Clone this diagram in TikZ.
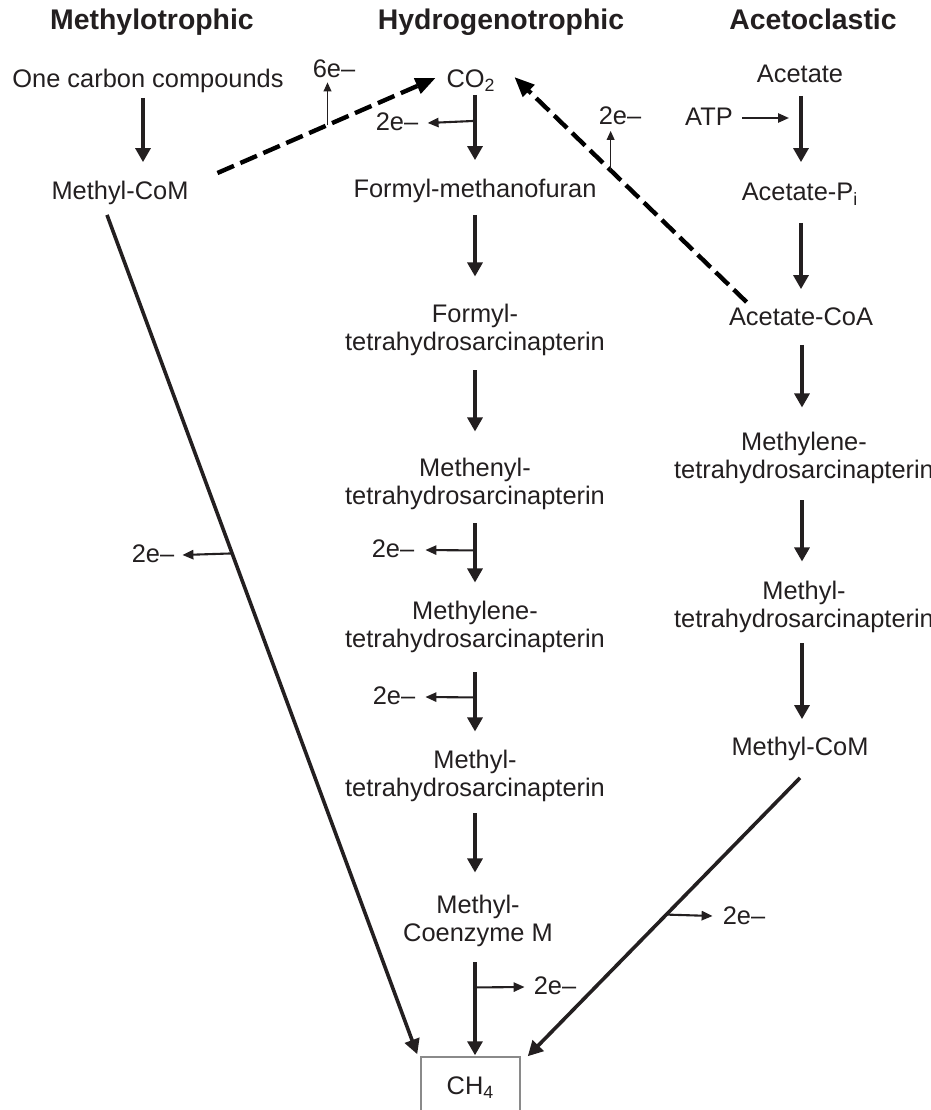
\documentclass[tikz,border=0pt]{standalone}
\usepackage{fontspec}
\setmainfont{Liberation Sans}
\usetikzlibrary{arrows.meta,calc}
\definecolor{ink}{HTML}{231F20}
\definecolor{boxgray}{HTML}{8A8A8A}
\begin{document}
\begin{tikzpicture}[x=0.5pt,y=-0.5pt,
  lbl/.style={inner sep=0pt, text height=0.73em, text depth=0.21em, font=\fontsize{12.7}{14}\selectfont, text=ink},
  two/.style={inner sep=0pt, align=center, font=\fontsize{12.7}{14}\selectfont, text=ink},
  hdr/.style={inner sep=0pt, text height=0.73em, text depth=0.21em, font=\fontsize{14.2}{16}\selectfont\bfseries, text=ink},
  mainarr/.style={line width=1.6pt, draw=ink, -{Triangle[width=7.5pt,length=7pt]}},
  diagline/.style={line width=1.8pt, draw=ink, -{Triangle[width=7.5pt,length=7.5pt]}},
  thinarr/.style={line width=1.05pt, draw=ink, -{Triangle[width=4.6pt,length=5.5pt]}},
  upthin/.style={line width=0.8pt, draw=ink, -{Triangle[width=3.8pt,length=4.5pt]}},
  dasharr/.style={line width=2.2pt, draw=black, dash pattern=on 9pt off 3.5pt, -{Triangle[width=8pt,length=10pt]}},
  ch4box/.style={draw=boxgray, line width=0.75pt, minimum width=49.5pt, minimum height=30.5pt, inner sep=0pt, font=\fontsize{12.7}{14}\selectfont, text=ink}
]
\clip (0,0) rectangle (931,1110);
\useasboundingbox (0,0) rectangle (931,1110);

% headers
\node[hdr] (h1) at (152,24.5) {Methylotrophic};
\node[hdr] (h2) at (501,24.5) {Hydrogenotrophic};
\node[hdr] (h3) at (813,24.5) {Acetoclastic};

% methylotrophic
\node[lbl] (occ) at (148,82.5) {One carbon compounds};
\node[lbl] (mc1) at (120,194.5) {Methyl-CoM};

% hydrogenotrophic
\node[lbl] (co2) at (471,82.5) {CO\textsubscript{2}};
\node[lbl] (fm) at (475,192.5) {Formyl-methanofuran};
\node[two] (ft) at (475,329.6) {Formyl-\\tetrahydrosarcinapterin};
\node[two] (mt) at (475,483.6) {Methenyl-\\tetrahydrosarcinapterin};
\node[two] (mlene) at (475,626.6) {Methylene-\\tetrahydrosarcinapterin};
\node[two] (mthyl) at (475,775.6) {Methyl-\\tetrahydrosarcinapterin};
\node[two] (mcoe) at (478,920.6) {Methyl-\\Coenzyme M};
\node[ch4box] (ch4) at (470.5,1087.5) {CH\textsubscript{4}};

% acetoclastic
\node[lbl] (ac) at (800,77.5) {Acetate};
\node[lbl] (atp) at (709,120.5) {ATP};
\node[lbl] (ap) at (800,195.5) {Acetate-P\textsubscript{i}};
\node[lbl] (acoa) at (801,320.5) {Acetate-CoA};
\node[two] (rmlene) at (804,457.6) {Methylene-\\tetrahydrosarcinapterin};
\node[two] (rmthyl) at (804,606.6) {Methyl-\\tetrahydrosarcinapterin};
\node[lbl] (mc2) at (800,750.5) {Methyl-CoM};

% electron labels
\node[lbl] (e6) at (334,72.5) {6e–};
\node[lbl] (e2a) at (397,125.5) {2e–};
\node[lbl] (e2b) at (620,119.5) {2e–};
\node[lbl] (e2c) at (393,552.5) {2e–};
\node[lbl] (e2d) at (394,699.5) {2e–};
\node[lbl] (e2e) at (555,989.5) {2e–};
\node[lbl] (e2f) at (744,919.5) {2e–};
\node[lbl] (e2g) at (153,557.5) {2e–};

% methylotrophic arrows
\draw[mainarr] ($(occ.south)+(-5,5.6)$) -- ($(mc1.north)+(23,-22.6)$);
\coordinate (L1) at ($(mc1.south)+(-13,10.6)$);
\coordinate (L2) at ($(ch4.north west)+(-3,-2)$);
\draw[diagline] (L1) -- (L2);
\coordinate (Lb) at ($(L1)!0.4033!(L2)$);
\draw[thinarr] (Lb) -- ($(e2g.east)+(7.8,-2.5)$);

% hydrogenotrophic arrows
\draw[mainarr] ($(co2.south)+(4,2.6)$) -- ($(fm.north)+(0,-22.6)$);
\coordinate (b1) at ($(co2.south)+(4,28.6)$);
\draw[thinarr] (b1) -- ($(e2a.east)+(9,-2.5)$);
\draw[mainarr] ($(fm.south)+(0,12.6)$) -- ($(ft.north)+(0,-26.9)$);
\draw[mainarr] ($(ft.south)+(0,14.6)$) -- ($(mt.north)+(0,-25.9)$);
\draw[mainarr] ($(mt.south)+(0,13.6)$) -- ($(mlene.north)+(0,-17.9)$);
\coordinate (b2) at ($(mt.south)+(0,40.6)$);
\draw[thinarr] (b2) -- ($(e2c.east)+(10.8,-2.5)$);
\draw[mainarr] ($(mlene.south)+(0,19.6)$) -- ($(mthyl.north)+(0,-17.9)$);
\coordinate (b3) at ($(mlene.south)+(0,44.6)$);
\draw[thinarr] (b3) -- ($(e2d.east)+(9.8,-2.5)$);
\draw[mainarr] ($(mthyl.south)+(0,11.6)$) -- ($(mcoe.north)+(-3,-21.9)$);
\draw[mainarr] ($(mcoe.south)+(-3,15.6)$) -- ($(ch4.north)+(4.5,-1)$);
\coordinate (b4) at ($(mcoe.south)+(-3,40.6)$);
\draw[thinarr] (b4) -- ($(e2e.west)+(-8.8,-2.5)$);

% acetoclastic arrows
\draw[thinarr] ($(atp.east)+(9,-2.5)$) -- ($(atp.east -| ac.south)+(-11,-2.5)$);
\draw[mainarr] ($(ac.south)+(1,8.6)$) -- ($(ap.north)+(1,-23.6)$);
\draw[mainarr] ($(ap.south)+(1,17.6)$) -- ($(acoa.north)+(0,-21.6)$);
\draw[mainarr] ($(acoa.south)+(1,14.6)$) -- ($(rmlene.north)+(-2,-23.9)$);
\draw[mainarr] ($(rmlene.south)+(-2,16.6)$) -- ($(rmthyl.north)+(-2,-18.9)$);
\draw[mainarr] ($(rmthyl.south)+(-2,10.6)$) -- ($(mc2.north)+(2,-21.6)$);
\coordinate (R1) at ($(mc2.south)+(0,17.6)$);
\coordinate (R2) at ($(ch4.north east)+(7,0)$);
\draw[diagline] (R1) -- (R2);
\coordinate (Rb) at ($(R1)!0.491!(R2)$);
\draw[thinarr] (Rb) -- ($(e2f.west)+(-9.8,-3.5)$);

% dashed returns to CO2
\coordinate (D1s) at ($(mc1.east)+(28.6,-21.5)$);
\coordinate (D1e) at ($(co2.west)+(-10.5,-4.5)$);
\draw[dasharr] (D1s) -- (D1e);
\coordinate (p6) at ($(D1s)!0.5045!(D1e)$);
\draw[upthin] (p6) -- (p6 |- e6.south);

\coordinate (D2s) at ($(acoa.north west)+(18,-8.6)$);
\coordinate (D2e) at ($(co2.east)+(18.5,-5.5)$);
\draw[dasharr] (D2s) -- (D2e);
\coordinate (p2) at ($(D2s)!0.5855!(D2e)$);
\draw[upthin] (p2) -- ($(p2 |- e2b.south)+(0,1.5)$);
\end{tikzpicture}
\end{document}
